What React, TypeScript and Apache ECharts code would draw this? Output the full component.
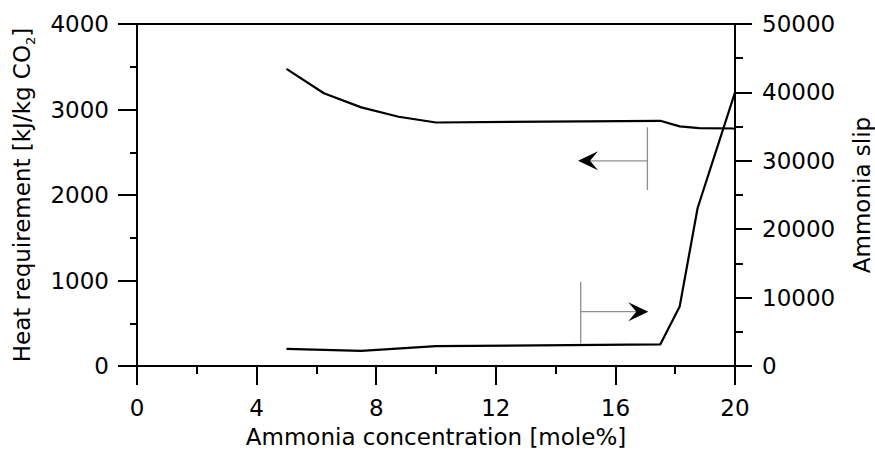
import React, { useEffect, useRef } from "react";
import * as echarts from "echarts";

const heatX = [5, 6.25, 7.5, 8.75, 10, 17.5, 18.15, 18.8, 20];
const heatRequirement = [3475, 3190, 3025, 2915, 2848, 2868, 2802, 2782, 2778];
const slipX = [5, 7.5, 10, 17.5, 18.15, 18.75, 20];
const ammoniaSlip = [2500, 2200, 2900, 3150, 8700, 23100, 40000];

const xTicks = { min: 0, max: 20, interval: 4 };
const leftTicks = { min: 0, max: 4000, interval: 1000 };
const rightTicks = { min: 0, max: 50000, interval: 10000 };

// annotation arrows, in data coordinates: bar at xFrom spanning [yLow, yHigh], arrow to xTo at y
const heatArrow = { xFrom: 17.07, xTo: 14.75, y: 2400, yLow: 2058, yHigh: 2792, axis: 0 };
const slipArrow = { xFrom: 14.84, xTo: 17.1, y: 7940, yLow: 3300, yHigh: 12300, axis: 1 };

const FONT = "DejaVu Sans";

export default function App() {
  const ref = useRef<HTMLDivElement>(null);
  useEffect(() => {
    if (!ref.current) return;
    const chart = echarts.init(ref.current, undefined, { renderer: "svg" });
    const axisLine = { show: true, lineStyle: { color: "#000", width: 2 } };
    const labelStyle = { fontFamily: FONT, fontSize: 23, color: "#000" };
    const plain = (v: number) => String(v);
    const option: any = {
      animation: false,
      grid: {
        left: 137,
        right: 140,
        top: 24,
        bottom: 86,
        containLabel: false,
        outerBoundsMode: "none",
        show: true,
        borderColor: "#000",
        borderWidth: 2,
      },
      xAxis: {
        type: "value",
        ...xTicks,
        axisLine,
        axisTick: { show: true, length: 19, lineStyle: { color: "#000", width: 2 } },
        minorTick: { show: true, splitNumber: 2, length: 8, lineStyle: { color: "#000", width: 2 } },
        splitLine: { show: false },
        axisLabel: { ...labelStyle, margin: 30, formatter: plain },
        name: "Ammonia concentration [mole%]",
        nameLocation: "middle",
        nameGap: 59,
        nameTextStyle: { ...labelStyle },
      },
      yAxis: [
        {
          type: "value",
          position: "left",
          ...leftTicks,
          axisLine,
          axisTick: { show: true, length: 19, lineStyle: { color: "#000", width: 2 } },
          minorTick: { show: true, splitNumber: 2, length: 7, lineStyle: { color: "#000", width: 2 } },
          splitLine: { show: false },
          axisLabel: { ...labelStyle, margin: 28, formatter: plain },
          name: "Heat requirement [kJ/kg CO{sub|2}]",
          nameLocation: "middle",
          nameRotate: 90,
          nameGap: 100,
          nameTextStyle: {
            ...labelStyle,
            lineHeight: 30,
            rich: {
              sub: { fontFamily: FONT, fontSize: 13, color: "#000", verticalAlign: "bottom", lineHeight: 30 },
            },
          },
        },
        {
          type: "value",
          position: "right",
          ...rightTicks,
          axisLine,
          axisTick: { show: true, length: 17, lineStyle: { color: "#000", width: 2 } },
          minorTick: { show: true, splitNumber: 2, length: 8, lineStyle: { color: "#000", width: 2 } },
          splitLine: { show: false },
          axisLabel: { ...labelStyle, margin: 27, formatter: plain },
          name: "Ammonia slip",
          nameLocation: "middle",
          nameRotate: 90,
          nameGap: 115,
          nameTextStyle: { ...labelStyle },
        },
      ],
      series: [
        {
          name: "Heat requirement",
          type: "line",
          yAxisIndex: 0,
          showSymbol: false,
          lineStyle: { color: "#000", width: 2.2 },
          data: heatX.map((x, i) => [x, heatRequirement[i]]),
        },
        {
          name: "Ammonia slip",
          type: "line",
          yAxisIndex: 1,
          showSymbol: false,
          lineStyle: { color: "#000", width: 2.2 },
          data: slipX.map((x, i) => [x, ammoniaSlip[i]]),
        },
      ],
    };
    chart.setOption(option);

    const makeArrow = (a: typeof heatArrow) => {
      const conv = (x: number, y: number) =>
        chart.convertToPixel({ xAxisIndex: 0, yAxisIndex: a.axis }, [x, y]) as number[];
      const from = conv(a.xFrom, a.y);
      const to = conv(a.xTo, a.y);
      const lo = conv(a.xFrom, a.yLow);
      const hi = conv(a.xFrom, a.yHigh);
      const dir = to[0] > from[0] ? 1 : -1;
      const len = 20;
      const half = 9.5;
      const notch = 12;
      const tip = to;
      const head = [
        [tip[0], tip[1]],
        [tip[0] - dir * len, tip[1] - half],
        [tip[0] - dir * notch, tip[1]],
        [tip[0] - dir * len, tip[1] + half],
      ];
      return [
        {
          type: "line",
          shape: { x1: hi[0], y1: hi[1], x2: lo[0], y2: lo[1] },
          style: { stroke: "#8f8f8f", lineWidth: 1.3 },
        },
        {
          type: "line",
          shape: { x1: from[0], y1: from[1], x2: tip[0] - dir * notch, y2: tip[1] },
          style: { stroke: "#8f8f8f", lineWidth: 1.3 },
        },
        {
          type: "polygon",
          shape: { points: head },
          style: { fill: "#000" },
        },
      ];
    };
    chart.setOption({ graphic: [...makeArrow(heatArrow), ...makeArrow(slipArrow)] });

    return () => chart.dispose();
  }, []);
  return (
    <div
      ref={ref}
      style={{ position: "fixed", left: 0, top: 0, width: 875, height: 452, background: "#fff" }}
    />
  );
}
